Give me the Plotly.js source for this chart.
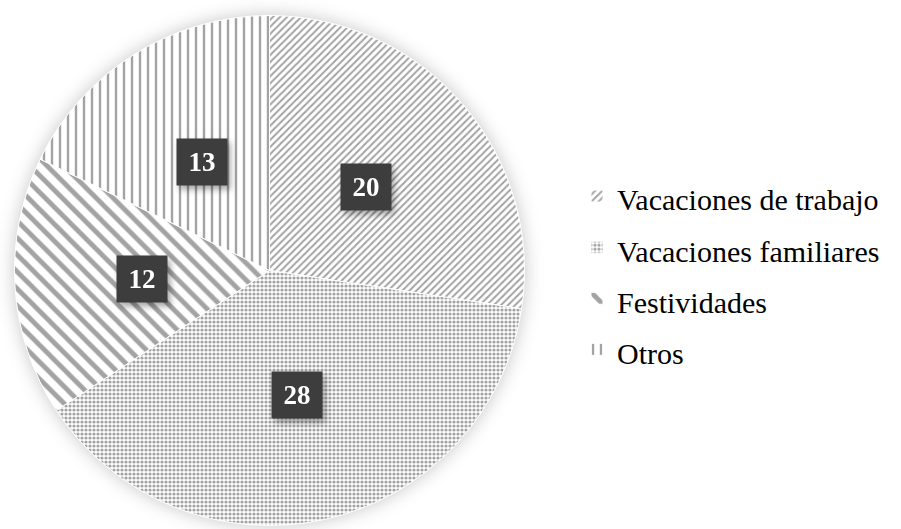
<!DOCTYPE html>
<html>
<head>
<meta charset="utf-8">
<script src="https://cdn.plot.ly/plotly-3.0.1.min.js"></script>
<style>
html, body { margin: 0; padding: 0; background: #fff; }
#chart { width: 901px; height: 529px; }
.pielayer { filter: drop-shadow(0px 0px 9px rgba(0,0,0,0.22)); }
.annotation { filter: drop-shadow(3px 4px 3px rgba(0,0,0,0.35)); }
.legendtext { font-family: "Liberation Serif", "Times New Roman", serif !important; }
.legendtext tspan { font-family: "Liberation Serif", "Times New Roman", serif !important; }
</style>
</head>
<body>
<div id="chart"></div>
<script>
// Data
const categories = ["Vacaciones de trabajo", "Vacaciones familiares", "Festividades", "Otros"];
const values = [20, 28, 12, 13];
const valueLabels = ["20", "28", "12", "13"];

// Styling
const W = 901, H = 529;
const cx = 269.5, cy = 270.5, R = 255;
const patternShapes = ["/", ".", "\\", "|"];
const patternSizes = [5, 4, 12, 8];
const patternSolidity = [0.4, 0.5, 0.4, 0.3];
const gray = "#a3a3a3";

const trace = {
  type: "pie",
  labels: categories.map(c => '<span style="font-size:30px;font-family:Liberation Serif">' + c + '</span>'),
  values: values,
  sort: false,
  direction: "clockwise",
  rotation: 0,
  textinfo: "none",
  hoverinfo: "label+value",
  domain: { x: [(cx - R) / W, (cx + R) / W], y: [(H - cy - R) / H, (H - cy + R) / H] },
  marker: {
    colors: ["#ffffff", "#ffffff", "#ffffff", "#ffffff"],
    line: { color: "#ffffff", width: 1 },
    pattern: {
      shape: patternShapes,
      size: patternSizes,
      solidity: patternSolidity,
      fgcolor: gray,
      bgcolor: "#ffffff",
      fillmode: "replace"
    }
  }
};

// label annotations at half radius of each slice middle (computed from values)
const total = values.reduce((a, b) => a + b, 0);
let cum = 0;
const annotations = values.map((v, i) => {
  const mid = (cum + v / 2) / total * 2 * Math.PI;
  cum += v;
  const px = cx + 0.5 * R * Math.sin(mid);
  const py = cy - 0.5 * R * Math.cos(mid);
  return {
    xref: "paper", yref: "paper",
    x: px / W, y: 1 - py / H,
    xanchor: "center", yanchor: "middle",
    text: "<b>" + valueLabels[i] + "</b>",
    showarrow: false,
    font: { family: "Liberation Serif, Times New Roman, serif", size: 27, color: "#ffffff" },
    bgcolor: "#3d3d3d",
    width: 48, height: 44, borderpad: 1
  };
});

const layout = {
  width: W, height: H,
  margin: { l: 0, r: 0, t: 0, b: 0 },
  paper_bgcolor: "#ffffff",
  showlegend: true,
  legend: {
    x: 577 / W, xanchor: "left",
    y: 1 - 273 / H, yanchor: "middle",
    font: { family: "Liberation Serif, Times New Roman, serif", size: 37, color: "#000000" },
    bgcolor: "rgba(0,0,0,0)",
    borderwidth: 0
  },
  annotations: annotations
};

Plotly.newPlot("chart", [trace], layout, { displayModeBar: false, staticPlot: true });
</script>
</body>
</html>
